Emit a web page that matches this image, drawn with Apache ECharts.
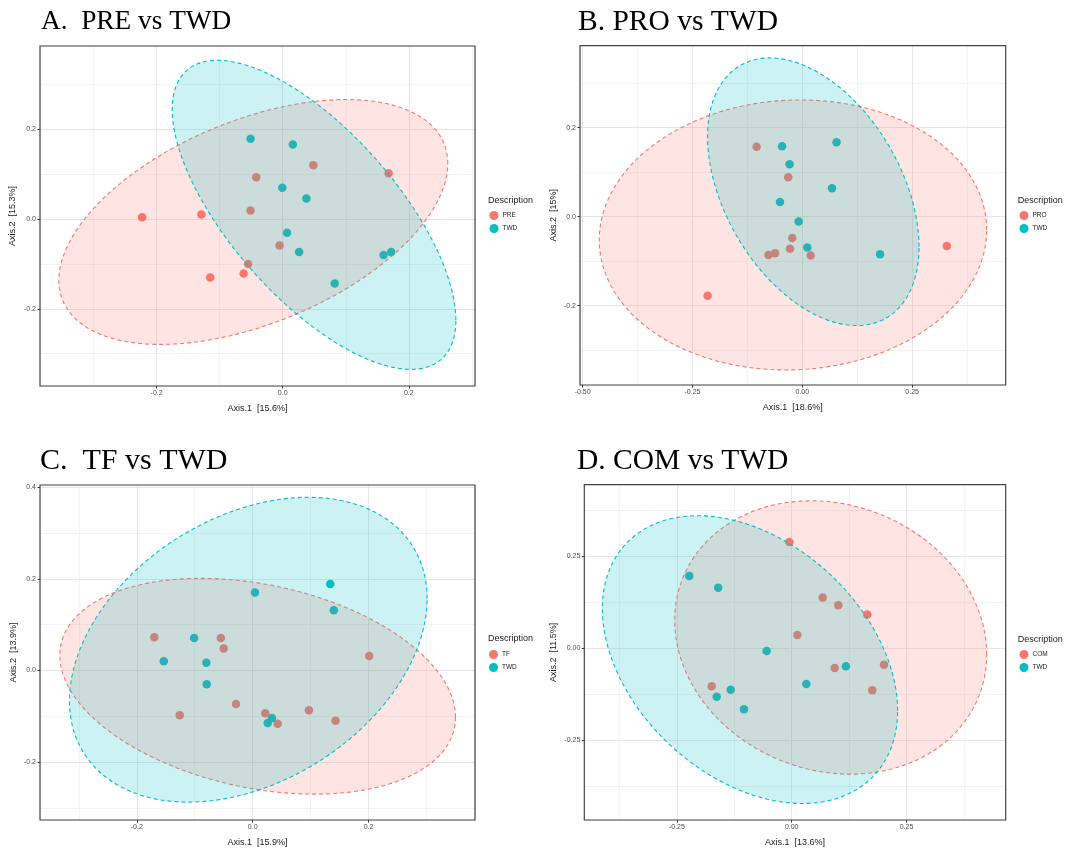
<!DOCTYPE html>
<html><head><meta charset="utf-8">
<script src="https://cdn.jsdelivr.net/npm/echarts@6/dist/echarts.min.js"></script>
<style>html,body{margin:0;padding:0;background:#fff}#c{width:1074px;height:848px}</style>
</head><body><div id="c"></div>
<script>
// ---------------- data ----------------
const panelTitles = ['A.  PRE vs TWD', 'B. PRO vs TWD', 'C.  TF vs TWD', 'D. COM vs TWD'];
const groupNames = ['PRE', 'PRO', 'TF', 'COM'];
const refName = 'TWD';
const xAxisNames = ['Axis.1  [15.6%]', 'Axis.1  [18.6%]', 'Axis.1  [15.9%]', 'Axis.1  [13.6%]'];
const yAxisNames = ['Axis.2  [15.3%]', 'Axis.2  [15%]', 'Axis.2  [13.9%]', 'Axis.2  [11.5%]'];

// axis ranges [min, max]
const xRanges = [[-0.385, 0.305], [-0.506, 0.463], [-0.367, 0.3836], [-0.4516, 0.466]];
const yRanges = [[-0.372, 0.386], [-0.378, 0.384], [-0.3266, 0.405], [-0.4658, 0.444]];
// labelled tick values
const xTicks = [[-0.2, 0, 0.2], [-0.5, -0.25, 0, 0.25], [-0.2, 0, 0.2], [-0.25, 0, 0.25]];
const yTicks = [[-0.2, 0, 0.2], [-0.2, 0, 0.2], [-0.2, 0, 0.2, 0.4], [-0.25, 0, 0.25]];
// major / minor grid steps, label decimals
const xMajor = [0.2, 0.25, 0.2, 0.25];
const yMajor = [0.2, 0.2, 0.2, 0.25];
const xMinor = [0.1, 0.125, 0.1, 0.125];
const yMinor = [0.1, 0.1, 0.1, 0.125];
const xDec = [1, 2, 1, 2];
const yDec = [1, 1, 1, 2];

// points: [Axis.1, Axis.2]
const preA = [[-0.223,0.004],[-0.129,0.0105],[-0.115,-0.130],[-0.062,-0.121],[-0.055,-0.100],
  [-0.051,0.019],[-0.042,0.0936],[-0.005,-0.059],[0.0486,0.120],[0.168,0.1025]];
const twdA = [[-0.051,0.179],[0.016,0.1665],[-0.0006,0.070],[0.0376,0.046],[0.0068,-0.0305],
  [0.026,-0.073],[0.160,-0.080],[0.172,-0.073],[0.0825,-0.1435]];
const proB = [[-0.104,0.157],[-0.032,0.0885],[-0.0228,-0.048],[-0.028,-0.072],[-0.062,-0.082],
  [-0.077,-0.086],[0.019,-0.087],[-0.2155,-0.1775],[0.329,-0.066]];
const twdB = [[-0.046,0.158],[0.078,0.167],[-0.029,0.118],[0.0677,0.0638],[-0.0508,0.033],
  [-0.0083,-0.011],[0.0114,-0.069],[0.177,-0.0845]];
const tfC = [[-0.1697,0.0727],[-0.055,0.071],[-0.050,0.048],[0.201,0.0317],[-0.0288,-0.0734],
  [-0.1259,-0.0978],[0.0217,-0.0935],[0.0431,-0.1165],[0.097,-0.087],[0.143,-0.110]];
const twdC = [[0.1338,0.189],[0.004,0.170],[0.140,0.1317],[-0.101,0.071],[-0.1534,0.020],
  [-0.080,0.0166],[-0.0793,-0.030],[0.0333,-0.104],[0.0259,-0.115]];
const comD = [[-0.005,0.2886],[0.0675,0.1376],[0.1015,0.117],[0.1646,0.092],[0.0122,0.0365],
  [0.0936,-0.0536],[0.201,-0.0448],[0.1755,-0.1137],[-0.1742,-0.103]];
const twdD = [[-0.223,0.1966],[-0.160,0.1644],[-0.0544,-0.0072],[0.118,-0.0483],[0.0318,-0.0965],
  [-0.1328,-0.1127],[-0.1633,-0.1314],[-0.1039,-0.1655]];

// ellipses: [centerX, centerY, semiDiamA_x, semiDiamA_y, semiDiamB_x, semiDiamB_y] (data units)
const ellGroup = [
  [-0.0466, -0.0063, 0.3085, 0.130, 0, 0.240],
  [-0.0212, -0.041, 0.441, 0.0112, 0, 0.303],
  [0.0086, -0.0345, 0.3414, -0.0676, 0, 0.2257],
  [0.0849, 0.0295, 0.3397, -0.0465, 0, 0.368]
];
const ellTwd = [
  [0.0497, 0.0096, 0.225, -0.235, 0, 0.252],
  [0.025, 0.056, 0.2407, -0.1236, 0, 0.274],
  [-0.0076, 0.0453, 0.3086, 0.1116, 0, 0.3136],
  [-0.0908, -0.0306, 0.3215, -0.1386, 0, 0.365]
];

const groupPoints = [preA, proB, tfC, comD];
const twdPoints = [twdA, twdB, twdC, twdD];

// ---------------- layout / style ----------------
const RED = '#F8766D', TEAL = '#00BFC4';
const gridRects = [[40, 46, 435, 340], [580, 45.7, 425.7, 339.3], [40, 485, 435, 339], [584.3, 484.7, 421.4, 339.3]];
const yNameGap = [23, 22, 22, 26];
const titlePos = [[41, 25], [578, 25], [40, 464], [577, 464]];
const titleSize = [27.3, 29.5, 30, 29.5];
const legendPos = [[489.5, 211], [1019.5, 211], [489, 650], [1019.5, 650]];
const descPos = [[488, 201.5], [1017.7, 201.3], [488, 640], [1017.7, 640.3]];
const SANS = '"Liberation Sans", Arial, sans-serif';

function fmt(dec) {
  return function (v) { return Number(v).toFixed(dec); };
}

function ellipseRender(params, api) {
  const cx = api.value(0), cy = api.value(1);
  const ax = api.value(2), ay = api.value(3), bx = api.value(4), by = api.value(5);
  const pts = [];
  const N = 160;
  for (let i = 0; i < N; i++) {
    const t = i / N * Math.PI * 2;
    pts.push(api.coord([cx + ax * Math.cos(t) + bx * Math.sin(t), cy + ay * Math.cos(t) + by * Math.sin(t)]));
  }
  const col = api.value(6) === 0 ? RED : TEAL;
  const fill = api.value(6) === 0 ? 'rgba(248,118,109,0.2)' : 'rgba(0,191,196,0.2)';
  return {
    type: 'polygon',
    shape: { points: pts },
    style: { fill: fill, stroke: col, lineWidth: 1.1, lineDash: [4, 3] }
  };
}

const grids = [], xAxes = [], yAxes = [], series = [], legends = [], graphics = [];
for (let i = 0; i < 4; i++) {
  const r = gridRects[i];
  grids.push({ left: r[0], top: r[1], width: r[2], height: r[3], show: true, z: 5,
    backgroundColor: 'transparent', borderColor: '#444', borderWidth: 1.2 });
  // major axis (labels, ticks, major grid)
  xAxes.push({ type: 'value', gridIndex: i, min: xRanges[i][0], max: xRanges[i][1], position: 'bottom',
    minInterval: xMajor[i], maxInterval: xMajor[i], z: 2,
    name: xAxisNames[i], nameLocation: 'middle', nameGap: 18,
    nameTextStyle: { fontFamily: SANS, fontSize: 9, color: '#1a1a1a' },
    axisLine: { show: false, onZero: false },
    axisTick: { show: true, length: 2.5, customValues: xTicks[i], lineStyle: { color: '#333', width: 1 } },
    axisLabel: { customValues: xTicks[i], formatter: fmt(xDec[i]), fontFamily: SANS, fontSize: 7, color: '#4d4d4d', margin: 4 },
    splitLine: { show: true, lineStyle: { color: '#e6e6e6', width: 1 } } });
  // minor grid axis
  xAxes.push({ type: 'value', gridIndex: i, min: xRanges[i][0], max: xRanges[i][1], position: 'bottom',
    minInterval: xMinor[i], maxInterval: xMinor[i], z: 1,
    axisLine: { show: false, onZero: false }, axisTick: { show: false }, axisLabel: { show: false },
    splitLine: { show: true, lineStyle: { color: '#f3f3f3', width: 1 } } });
  yAxes.push({ type: 'value', gridIndex: i, min: yRanges[i][0], max: yRanges[i][1], position: 'left',
    minInterval: yMajor[i], maxInterval: yMajor[i], z: 2,
    name: yAxisNames[i], nameLocation: 'middle', nameGap: yNameGap[i],
    nameTextStyle: { fontFamily: SANS, fontSize: 9, color: '#1a1a1a' },
    axisLine: { show: false, onZero: false },
    axisTick: { show: true, length: 2.5, customValues: yTicks[i], lineStyle: { color: '#333', width: 1 } },
    axisLabel: { customValues: yTicks[i], formatter: fmt(yDec[i]), fontFamily: SANS, fontSize: 7, color: '#4d4d4d', margin: 4 },
    splitLine: { show: true, lineStyle: { color: '#e6e6e6', width: 1 } } });
  yAxes.push({ type: 'value', gridIndex: i, min: yRanges[i][0], max: yRanges[i][1], position: 'left',
    minInterval: yMinor[i], maxInterval: yMinor[i], z: 1,
    axisLine: { show: false, onZero: false }, axisTick: { show: false }, axisLabel: { show: false },
    splitLine: { show: true, lineStyle: { color: '#f3f3f3', width: 1 } } });

  const xi = 2 * i, yi = 2 * i;
  series.push({ type: 'scatter', name: groupNames[i], xAxisIndex: xi, yAxisIndex: yi, z: 2,
    symbol: 'circle', symbolSize: 8.5, itemStyle: { color: RED, opacity: 1 }, data: groupPoints[i] });
  series.push({ type: 'scatter', name: refName, xAxisIndex: xi, yAxisIndex: yi, z: 2,
    symbol: 'circle', symbolSize: 8.5, itemStyle: { color: TEAL, opacity: 1 }, data: twdPoints[i] });
  series.push({ type: 'custom', name: 'ellipse-' + groupNames[i], xAxisIndex: xi, yAxisIndex: yi, z: 3,
    renderItem: ellipseRender, encode: { x: 0, y: 1 }, silent: true,
    data: [ellGroup[i].concat([0])] });
  series.push({ type: 'custom', name: 'ellipse-' + refName + i, xAxisIndex: xi, yAxisIndex: yi, z: 4,
    renderItem: ellipseRender, encode: { x: 0, y: 1 }, silent: true,
    data: [ellTwd[i].concat([1])] });

  legends.push({ data: [groupNames[i], refName], orient: 'vertical', left: legendPos[i][0], top: legendPos[i][1],
    icon: 'circle', itemWidth: 9, itemHeight: 9, itemGap: 4, padding: 0, selectedMode: false,
    textStyle: { fontFamily: SANS, fontSize: 6.5, color: '#1a1a1a', padding: [0, 0, 0, -1] } });

  graphics.push({ type: 'text', left: titlePos[i][0], top: titlePos[i][1] - titleSize[i] * 0.6,
    style: { text: panelTitles[i], font: titleSize[i] + 'px "Liberation Serif", "Times New Roman", serif', fill: '#000' } });
  graphics.push({ type: 'text', left: descPos[i][0], top: descPos[i][1] - 5.5,
    style: { text: 'Description', font: '9px ' + SANS, fill: '#1a1a1a' } });
}

const chart = echarts.init(document.getElementById('c'), null, { renderer: 'canvas' });
chart.setOption({
  backgroundColor: '#fff',
  animation: false,
  grid: grids, xAxis: xAxes, yAxis: yAxes, series: series, legend: legends, graphic: graphics
});
</script></body></html>
